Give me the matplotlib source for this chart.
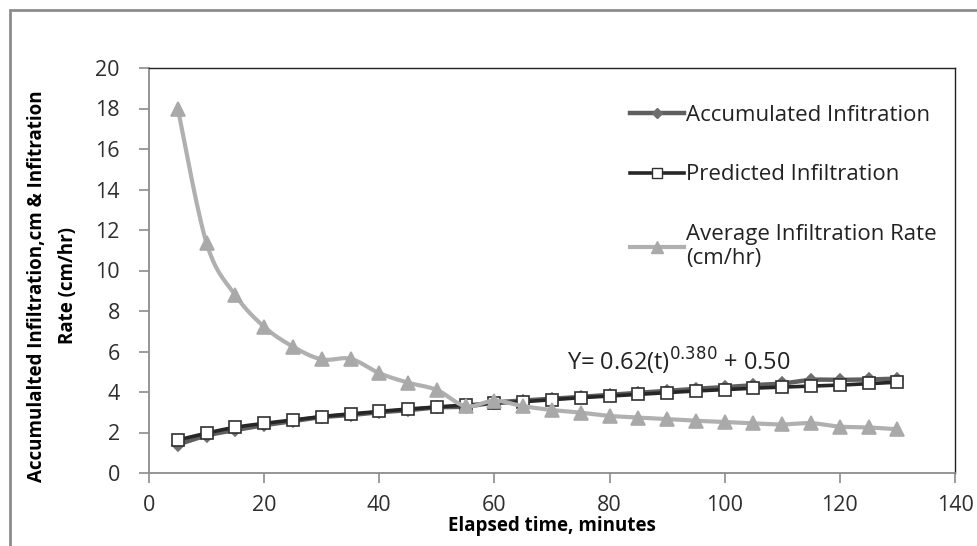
import numpy as np
import matplotlib
matplotlib.use("Agg")
import matplotlib.pyplot as plt
from matplotlib.lines import Line2D
from matplotlib.patches import Rectangle

time_min = [5, 10, 15, 20, 25, 30, 35, 40, 45, 50, 55, 60, 65,
            70, 75, 80, 85, 90, 95, 100, 105, 110, 115, 120, 125, 130]
accumulated = [1.40, 1.85, 2.12, 2.36, 2.56, 2.76, 2.86, 3.00, 3.10, 3.24, 3.28, 3.48, 3.58,
               3.66, 3.76, 3.86, 3.96, 4.06, 4.16, 4.24, 4.34, 4.42, 4.60, 4.60, 4.62, 4.66]
predicted = [1.63, 1.97, 2.26, 2.45, 2.62, 2.79, 2.92, 3.04, 3.16, 3.26, 3.36, 3.44, 3.52,
             3.62, 3.72, 3.80, 3.88, 3.97, 4.05, 4.12, 4.19, 4.24, 4.29, 4.34, 4.42, 4.48]
avg_rate = [18.0, 11.35, 8.78, 7.22, 6.24, 5.61, 5.64, 4.93, 4.46, 4.10, 3.30, 3.57, 3.30,
            3.11, 2.98, 2.82, 2.74, 2.66, 2.58, 2.52, 2.45, 2.40, 2.46, 2.29, 2.25, 2.16]

labels = ["Accumulated Infitration", "Predicted Infiltration",
          "Average Infiltration Rate\n(cm/hr)"]
xticks = [0, 20, 40, 60, 80, 100, 120, 140]
yticks = [0, 2, 4, 6, 8, 10, 12, 14, 16, 18, 20]
xlabel = "Elapsed time, minutes"
ylabel = "Accumulalted Infiltration,cm & Infitration\nRate (cm/hr)"
equation = r"Y= 0.62(t)$^{0.380}$ + 0.50"

FONT = ["Open Sans", "DejaVu Sans"]
plt.rcParams["font.family"] = FONT


def smooth(x, y, n=16, tension=0.5):
    x = np.asarray(x, float)
    y = np.asarray(y, float)
    px = np.concatenate([[x[0]], x, [x[-1]]])
    py = np.concatenate([[y[0]], y, [y[-1]]])
    xs, ys = [], []
    t = np.linspace(0, 1, n, endpoint=False)
    for i in range(1, len(px) - 2):
        p0x, p1x, p2x, p3x = px[i - 1], px[i], px[i + 1], px[i + 2]
        p0y, p1y, p2y, p3y = py[i - 1], py[i], py[i + 1], py[i + 2]
        m1x, m1y = tension * (p2x - p0x), tension * (p2y - p0y)
        m2x, m2y = tension * (p3x - p1x), tension * (p3y - p1y)
        h00 = 2 * t**3 - 3 * t**2 + 1
        h10 = t**3 - 2 * t**2 + t
        h01 = -2 * t**3 + 3 * t**2
        h11 = t**3 - t**2
        xs.append(h00 * p1x + h10 * m1x + h01 * p2x + h11 * m2x)
        ys.append(h00 * p1y + h10 * m1y + h01 * p2y + h11 * m2y)
    xs.append([x[-1]])
    ys.append([y[-1]])
    return np.concatenate(xs), np.concatenate(ys)


fig = plt.figure(figsize=(9.77, 5.46), dpi=100)
fig.patch.set_facecolor("white")
ax = fig.add_axes([149 / 977, 1 - 473 / 546, (955 - 149) / 977, (473 - 68) / 546])

# outer chart border (left and top visible)
fig.add_artist(Rectangle((10 / 977, -0.1), 1.2, 1 - 10 / 546 + 0.1,
                         transform=fig.transFigure, fill=False,
                         edgecolor="#8c8c8c", linewidth=2.0))

styles = [
    dict(color="#5f5f5f", lw=3.2, marker="D", ms=6.5, mfc="#6e6e6e", mec="#6e6e6e"),
    dict(color="#262626", lw=2.6, marker="s", ms=9, mfc="white", mec="#303030"),
    dict(color="#b0b0b0", lw=3.0, marker="^", ms=10, mfc="#a9a9a9", mec="#a9a9a9"),
]
series = [accumulated, predicted, avg_rate]
handles = []
for k, (vals, st) in enumerate(zip(series, styles)):
    sx, sy = smooth(time_min, vals)
    ax.plot(sx, sy, color=st["color"], lw=st["lw"], solid_capstyle="round", zorder=2 + k)
    ax.plot(time_min, vals, linestyle="none", marker=st["marker"], ms=st["ms"],
            mfc=st["mfc"], mec=st["mec"], mew=1.2, zorder=2.5 + k)
    handles.append(Line2D([], [], color=st["color"], lw=st["lw"], marker=st["marker"],
                          ms=st["ms"] * 0.8, mfc=st["mfc"], mec=st["mec"], mew=1.0))

ax.set_xlim(0, 140)
ax.set_ylim(0, 20)
ax.set_xticks(xticks)
ax.set_yticks(yticks)
ax.tick_params(axis="both", direction="out", length=7, width=1.2, color="#8c8c8c",
               labelsize=15.5, labelcolor="#2e2e2e")
ax.tick_params(axis="x", pad=9)
ax.tick_params(axis="y", pad=14)
for s in ["left", "bottom"]:
    ax.spines[s].set_color("#8c8c8c")
    ax.spines[s].set_linewidth(1.3)
for s in ["top", "right"]:
    ax.spines[s].set_color("#222222")
    ax.spines[s].set_linewidth(1.0)

ax.set_xlabel(xlabel, fontsize=13.5, fontweight="bold", labelpad=0)
ax.set_ylabel(ylabel, fontsize=13.5, fontweight="bold", linespacing=1.75)
ax.yaxis.set_label_coords(-0.088, 0.462)

ax.text(72.6, 5.05, equation, fontsize=17, color="#222222")

leg = ax.legend(handles, labels, loc="upper left", bbox_to_anchor=(0.586, 0.930),
                frameon=False, fontsize=16, handlelength=2.4, handletextpad=0.1,
                labelspacing=1.72, borderaxespad=0)
for t in leg.get_texts():
    t.set_color("#222222")

fig.savefig("out.png", dpi=100)
